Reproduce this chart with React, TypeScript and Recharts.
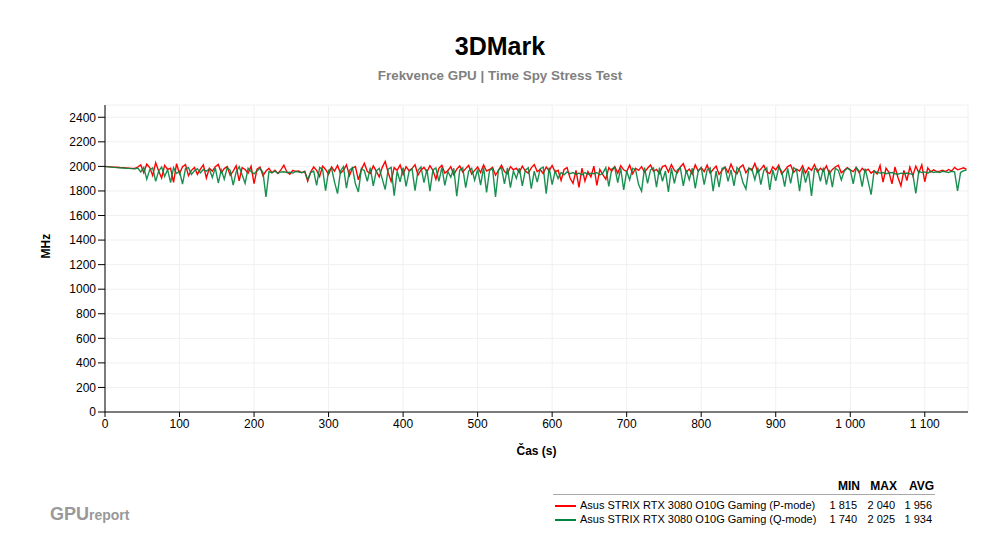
import { LineChart, Line, XAxis, YAxis, CartesianGrid } from 'recharts'

// time step of the samples (s)
const STEP = 4

// Asus STRIX RTX 3080 O10G Gaming (P-mode), MHz
const pMode = [
  2000, 1998, 1996, 1994, 1993, 1991, 1990, 1988, 1986, 1984,
  1983, 1995, 2012, 1948, 2018, 1990, 1925, 2030, 1962, 1905,
  2008, 1975, 1985, 1870, 2022, 1940, 1998, 2015, 1925, 1968,
  1992, 1935, 1978, 2012, 1905, 1985, 1962, 1998, 2016, 1948,
  1982, 1998, 1928, 1962, 2006, 1882, 1990, 1975, 1945, 2002,
  1860, 1978, 1995, 1925, 1962, 1985, 1948, 1968, 1942, 1972,
  2010, 1955, 1936, 1968, 1958, 1962, 1948, 1960, 1880, 1955,
  1995, 1968, 1918, 2002, 1975, 1935, 1995, 1962, 2008, 1945,
  1968, 2012, 1925, 1985, 1998, 1890, 1975, 2026, 1958, 1942,
  2005, 1962, 1915, 1992, 2040, 1948, 1878, 1990, 1968, 2012,
  1935, 1998, 1965, 1982, 2014, 1930, 1972, 1992, 1955, 2006,
  1968, 1895, 1985, 2010, 1945, 1965, 1998, 1932, 1978, 2004,
  1955, 1982, 2008, 1938, 1968, 1995, 1950, 2012, 1962, 1975,
  1992, 1928, 1968, 2010, 1958, 1940, 1998, 1972, 1985, 1952,
  2002, 1962, 1945, 1988, 2015, 1958, 1975, 1942, 1995, 1965,
  2008, 1955, 1968, 1885, 1975, 1990, 1905, 1862, 1968, 1830,
  1985, 1880, 1958, 1915, 2002, 1845, 1975, 1932, 1895, 1990,
  1962, 1998, 1945, 2005, 1972, 1958, 2010, 1940, 1985, 1968,
  1998, 1952, 1985, 2012, 1960, 1975, 1942, 1998, 2008, 1955,
  2015, 1968, 1948, 1995, 2022, 1955, 1978, 1938, 2012, 1962,
  1990, 1958, 2010, 1945, 1975, 2002, 1935, 1968, 1995, 1950,
  2018, 1962, 1940, 1992, 2012, 1948, 1985, 1968, 2024, 1952,
  1978, 2008, 1955, 1942, 1995, 1972, 2010, 1938, 1968, 1998,
  2012, 1950, 1978, 1962, 2005, 1945, 1990, 1968, 2015, 1955,
  1985, 1962, 2004, 1940, 1975, 1995, 2010, 1948, 1968, 1990,
  1972, 1958, 1990, 1948, 1985, 1962, 1978, 1945, 1965, 1938,
  2008, 1872, 1985, 1952, 1858, 1995, 1910, 1842, 1968, 1885,
  1995, 1925, 2002, 1948, 2012, 1875, 1988, 1955, 1972, 1958,
  1962, 1968, 1958, 1975, 1962, 1992, 1972, 1980, 1988, 1975,
]

// Asus STRIX RTX 3080 O10G Gaming (Q-mode), MHz
const qMode = [
  1998, 1996, 1994, 1992, 1990, 1988, 1987, 1985, 1984, 1982,
  1980, 1986, 1955, 1992, 1895, 1972, 1988, 1878, 1962, 1995,
  1918, 1975, 1868, 1990, 1942, 1962, 1855, 1982, 1990, 1935,
  1965, 1982, 1948, 1975, 1962, 1978, 1910, 1988, 1865, 1972,
  1895, 1990, 1968, 1848, 1955, 1998, 1932, 1862, 1985, 1958,
  1940, 1962, 1985, 1950, 1752, 1958, 1948, 1962, 1944, 1955,
  1956, 1950, 1952, 1946, 1960, 1954, 1950, 1958, 1892, 1950,
  1962, 1845, 1992, 1975, 1802, 1968, 1985, 1872, 1778, 1962,
  1998, 1822, 1968, 1990, 1858, 1792, 1982, 1965, 1878, 1990,
  1842, 1962, 1985, 1898, 1812, 1978, 1992, 1762, 1960, 1875,
  1990, 1838, 1958, 1982, 1802, 1968, 1995, 1868, 1975, 1798,
  1972, 1988, 1878, 1992, 1845, 1960, 1912, 1985, 1758, 1970,
  1988, 1828, 1962, 1985, 1888, 1975, 1848, 1992, 1788, 1968,
  1982, 1752, 1972, 1990, 1858, 1988, 1828, 1962, 1902, 1985,
  1842, 1970, 1988, 1818, 1962, 1872, 1982, 1995, 1778, 1990,
  1852, 1962, 1902, 1950, 1932, 1955, 1940, 1950, 1935, 1945,
  1930, 1950, 1935, 1945, 1940, 1950, 1930, 1945, 1990, 1838,
  1980, 1992, 1868, 1985, 1808, 1962, 1890, 1985, 1972, 1852,
  1798, 1990, 1862, 1972, 1988, 1832, 1990, 1878, 1962, 1792,
  1985, 1862, 1972, 1990, 1842, 1968, 1892, 1985, 1822, 1962,
  1990, 1852, 1972, 1988, 1798, 1962, 1832, 1985, 1990, 1878,
  1972, 1842, 1990, 1962, 1868, 1815, 1985, 1978, 1892, 1990,
  1852, 1968, 1988, 1808, 1972, 1882, 1990, 1962, 1835, 1985,
  1862, 1990, 1972, 1798, 1985, 1868, 1962, 1760, 1980, 1978,
  1878, 1990, 1852, 1972, 1832, 1985, 1968, 1890, 1962, 1985,
  1972, 1858, 1990, 1962, 1835, 1982, 1878, 1770, 1962, 1952,
  1945, 1950, 1940, 1946, 1950, 1940, 1936, 1945, 1940, 1946,
  1940, 1935, 1780, 1960, 1950, 1955, 1945, 1960, 1950, 1955,
  1950, 1960, 1955, 1950, 1960, 1955, 1800, 1950, 1965, 1970,
]

const yTicks = [0, 200, 400, 600, 800, 1000, 1200, 1400, 1600, 1800, 2000, 2200, 2400]
const xTicks = [0, 100, 200, 300, 400, 500, 600, 700, 800, 900, 1000, 1100]

const legendRows = [
  { name: 'Asus STRIX RTX 3080 O10G Gaming (P-mode)', color: '#ff0000', min: '1 815', max: '2 040', avg: '1 956' },
  { name: 'Asus STRIX RTX 3080 O10G Gaming (Q-mode)', color: '#00843f', min: '1 740', max: '2 025', avg: '1 934' },
]

const data = pMode.map((p, i) => ({ t: i * STEP, p, q: qMode[i] }))

const fmt = (v: number) => (v >= 1000 ? `${Math.floor(v / 1000)} ${String(v % 1000).padStart(3, '0')}` : String(v))

const font = 'Arial, "Liberation Sans", sans-serif'

const cell = (right: number, top: number, text: string, bold = false) => (
  <span style={{ position: 'absolute', right: 1000 - right, top, fontWeight: bold ? 'bold' : 'normal', whiteSpace: 'nowrap' }}>{text}</span>
)

export default function App() {
  return (
    <div style={{ position: 'absolute', left: 0, top: 0, width: 1000, height: 550, background: '#fff', fontFamily: font }}>
      <div style={{ position: 'absolute', top: 32, width: 1000, textAlign: 'center', fontSize: 25, fontWeight: 'bold', color: '#000' }}>3DMark</div>
      <div style={{ position: 'absolute', top: 68, width: 1000, textAlign: 'center', fontSize: 13.4, fontWeight: 'bold', color: '#808080' }}>
        Frekvence GPU | Time Spy Stress Test
      </div>

      <LineChart width={1000} height={550} data={data} margin={{ top: 105, right: 32, bottom: 108, left: 0 }} style={{ position: 'absolute', left: 0, top: 0 }}>
        <CartesianGrid stroke="#f0f0f0" vertical horizontal />
        <XAxis
          dataKey="t"
          type="number"
          domain={[0, 1158]}
          ticks={xTicks}
          tickFormatter={fmt}
          height={30}
          axisLine={{ stroke: '#000' }}
          tickLine={{ stroke: '#000' }}
          tickSize={5}
          tick={{ fontSize: 12, fill: '#000', fontFamily: font }}
          label={{ value: 'Čas (s)', position: 'insideBottom', offset: -13, fontSize: 12, fontWeight: 'bold', fill: '#000', fontFamily: font }}
        />
        <YAxis
          type="number"
          domain={[0, 2500]}
          ticks={yTicks}
          width={105}
          axisLine={{ stroke: '#000' }}
          tickLine={{ stroke: '#000' }}
          tickSize={7}
          tick={{ fontSize: 12, fill: '#000', fontFamily: font }}
          label={{ value: 'MHz', angle: -90, position: 'insideLeft', offset: 46, fontSize: 12, fontWeight: 'bold', fill: '#000', fontFamily: font }}
        />
        <Line dataKey="p" stroke="#ff0000" strokeWidth={1.4} dot={false} isAnimationActive={false} />
        <Line dataKey="q" stroke="#00843f" strokeWidth={1.4} strokeOpacity={0.9} dot={false} isAnimationActive={false} />
      </LineChart>

      <div style={{ position: 'absolute', left: 50, top: 504, color: '#999', fontWeight: 'bold' }}>
        <span style={{ fontSize: 18 }}>GPU</span>
        <span style={{ fontSize: 14 }}>report</span>
      </div>

      <div style={{ position: 'absolute', left: 0, top: 0, width: 1000, height: 550, fontSize: 12, color: '#000' }}>
        {cell(860, 479, 'MIN', true)}
        {cell(897, 479, 'MAX', true)}
        {cell(934, 479, 'AVG', true)}
        <div style={{ position: 'absolute', left: 553, top: 494, width: 382, height: 1, background: '#a8a8a8' }} />
        {legendRows.map((r, i) => {
          const top = 499 + i * 14
          return (
            <div key={r.name} style={{ fontSize: 11 }}>
              <div style={{ position: 'absolute', left: 555, top: top + 6, width: 21, height: 2, background: r.color }} />
              <span style={{ position: 'absolute', left: 580, top, whiteSpace: 'nowrap' }}>{r.name}</span>
              {cell(857, top, r.min)}
              {cell(895, top, r.max)}
              {cell(932, top, r.avg)}
            </div>
          )
        })}
      </div>
    </div>
  )
}
